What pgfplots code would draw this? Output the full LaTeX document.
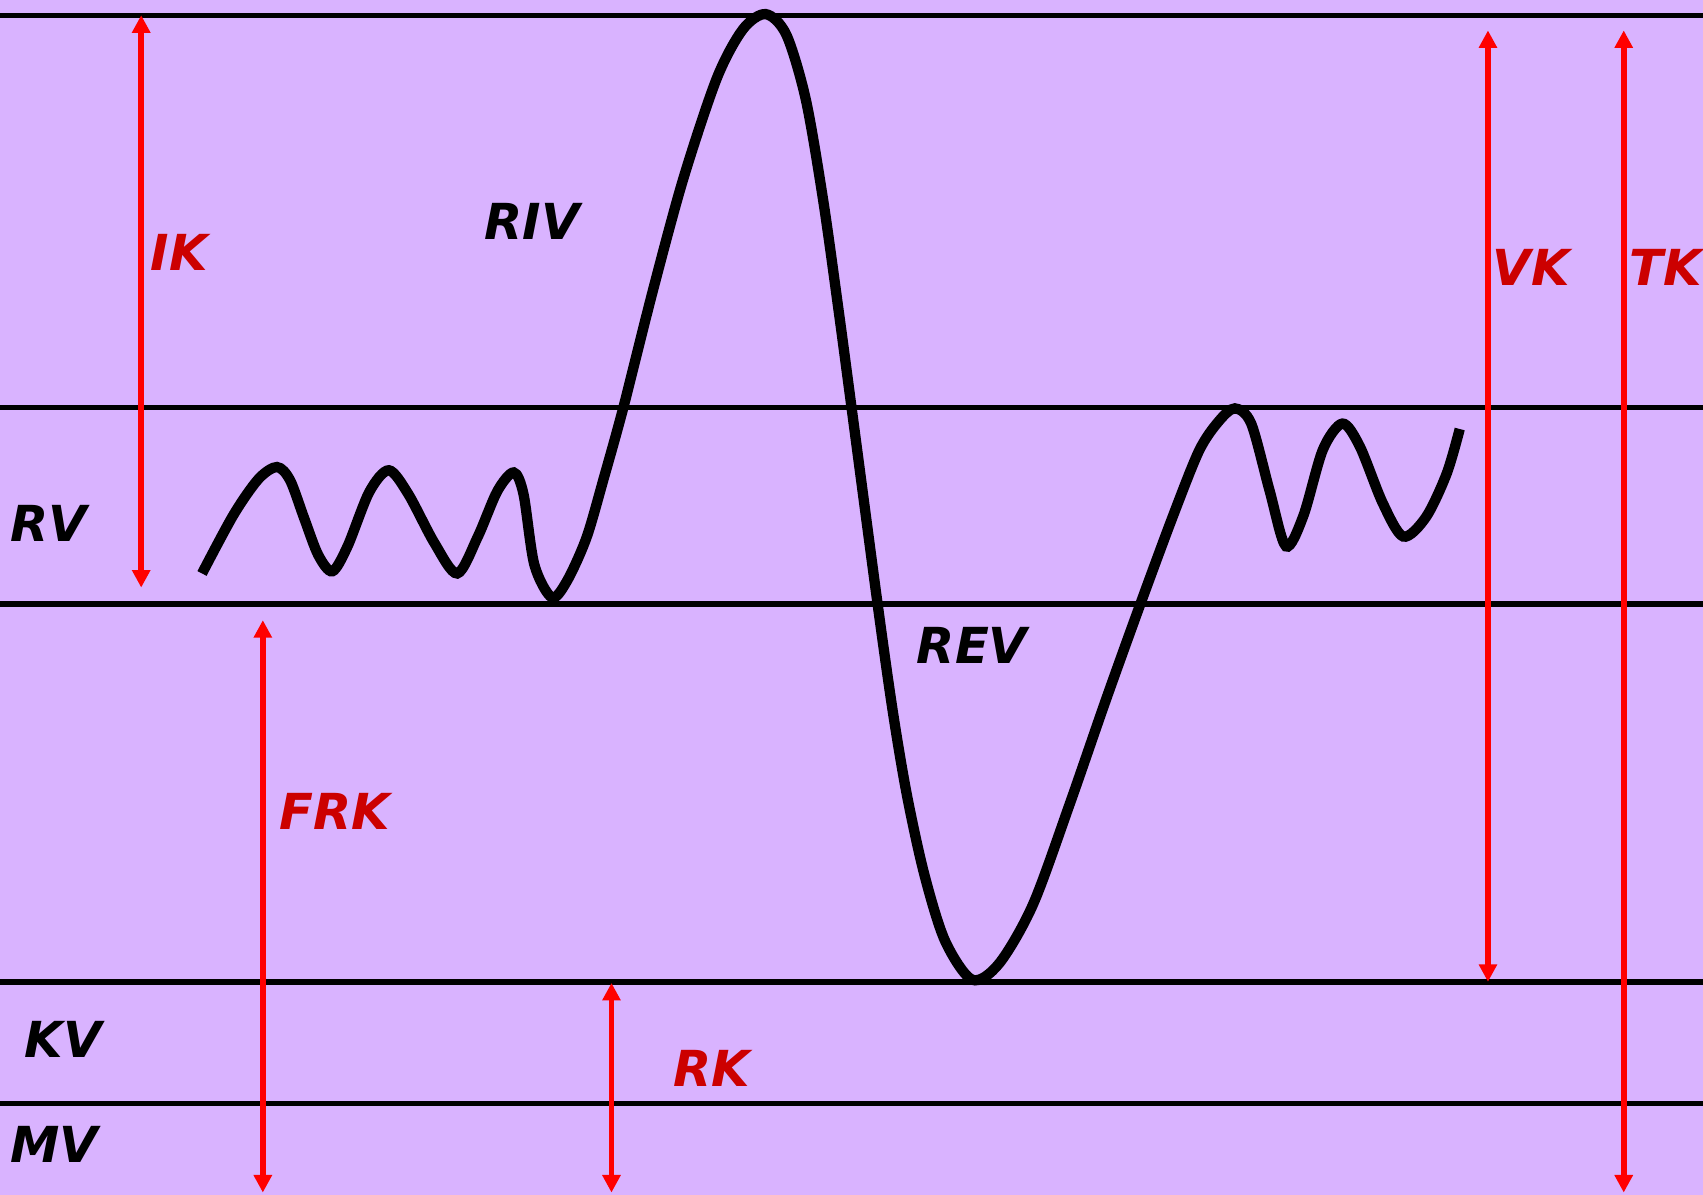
\documentclass[border=0pt]{standalone}
\usepackage{pgfplots}
\pgfplotsset{compat=1.18}
\usepackage{fontspec}
\setmainfont{DejaVu Sans}
\usetikzlibrary{arrows.meta}
\definecolor{bgpurple}{RGB}{217,179,255}
\definecolor{lblred}{RGB}{204,0,0}
\tikzset{
  lbl/.style={font=\fontsize{13}{15}\selectfont\bfseries\itshape, inner sep=0pt},
  arr/.style={red, line width=1.5pt, {Triangle[width=4.6pt,length=4.6pt]}-{Triangle[width=4.6pt,length=4.6pt]}},
  hl/.style={black, line width=1.4pt},
}
\begin{document}
\begin{tikzpicture}
\begin{axis}[
  width=15.68cm, height=11cm, scale only axis,
  xmin=0, xmax=1568, ymin=0, ymax=1100, y dir=reverse,
  axis line style={draw=none}, xtick=\empty, ytick=\empty,
  axis background/.style={fill=bgpurple},
]
% horizontal level lines
\addplot[hl] coordinates {(0,14) (1568,14)};
\addplot[hl] coordinates {(0,375) (1568,375)};
\addplot[hl] coordinates {(0,556) (1568,556)};
\addplot[hl] coordinates {(0,904) (1568,904)};
\addplot[hl] coordinates {(0,1016) (1568,1016)};
% spirogram curve
\addplot[black, line width=2.7pt, smooth] coordinates {
(186,528) (215,474) (238,441) (255,430) (267,442)
(280,477) (293,511) (306,526) (320,503) (340,453)
(358,433) (376,455) (400,500) (421,528) (440,494)
(458,452) (473,435) (482,455) (492,520) (508,550)
(522,535) (540,495) (556,440) (574,375) (601,268) (629,165)
(660,72) (684,27) (705,13) (724,32) (742,92)
(758,185) (772,285) (784,375) (808,556) (822,655)
(835,732) (851,805) (870,866) (895,902) (920,887)
(951,833) (985,740) (1018,645) (1050,556) (1080,475)
(1104,415) (1122,388) (1137,376) (1152,390) (1169,452)
(1184,503) (1200,475) (1218,414) (1236,390) (1252,411)
(1273,463) (1292,494) (1313,476) (1332,436) (1344,395)
};
% red double arrows
\addplot[arr] coordinates {(130,14) (130,541)};
\addplot[arr] coordinates {(242,571) (242,1098)};
\addplot[arr] coordinates {(563,905) (563,1098)};
\addplot[arr] coordinates {(1370,28) (1370,904)};
\addplot[arr] coordinates {(1495,28) (1495,1098)};
% labels
\node[lbl, text=lblred] at (axis cs:165,232) {IK};
\node[lbl] at (axis cs:490,204) {RIV};
\node[lbl] at (axis cs:45,482) {RV};
\node[lbl] at (axis cs:895,594) {REV};
\node[lbl, text=lblred] at (axis cs:308,747) {FRK};
\node[lbl] at (axis cs:58,957) {KV};
\node[lbl] at (axis cs:50,1054) {MV};
\node[lbl, text=lblred] at (axis cs:655,984) {RK};
\node[lbl, text=lblred] at (axis cs:1410,246) {VK};
\node[lbl, text=lblred] at (axis cs:1534,246) {TK};
\end{axis}
\end{tikzpicture}
\end{document}
